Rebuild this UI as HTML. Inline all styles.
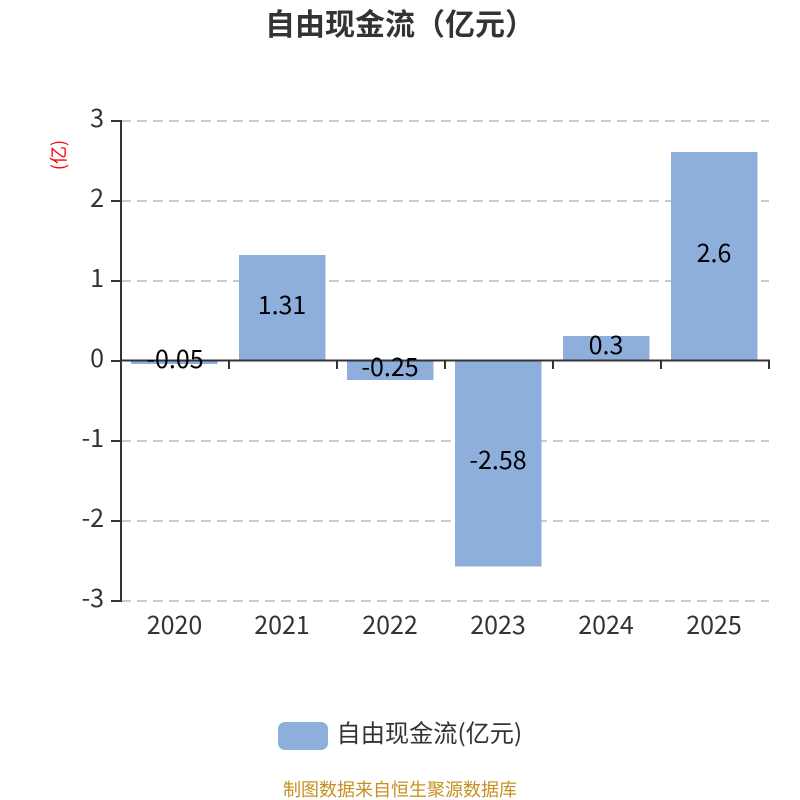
<!DOCTYPE html>
<html><head><meta charset="utf-8"><style>
html,body{margin:0;padding:0;background:#fff;width:800px;height:800px;overflow:hidden}
svg{display:block}
text{font-family:"Liberation Sans","Noto Sans CJK SC",sans-serif}
.n{font-family:"Noto Sans CJK SC",sans-serif}
</style></head><body>
<svg width="800" height="800" viewBox="0 0 800 800" xmlns="http://www.w3.org/2000/svg">
<text class="n" x="400" y="35" text-anchor="middle" font-size="30" font-weight="700" fill="#333">自由现金流（亿元）</text>
<g stroke="#ccc" stroke-width="2" stroke-dasharray="10 6" fill="none">
<path d="M121 121H769M121 201H769M121 281H769M121 441H769M121 521H769M121 601H769"/>
</g>
<g fill="#8eaedb">
<rect x="131" y="360" width="86.5" height="4"/>
<rect x="239" y="255" width="86.5" height="105"/>
<rect x="347" y="360" width="86.5" height="20"/>
<rect x="455" y="360" width="86.5" height="206.500"/>
<rect x="563" y="336" width="86.5" height="24"/>
<rect x="671" y="152" width="86.5" height="208"/>
</g>
<g stroke="#333" stroke-width="2" fill="none">
<path d="M121 120V602"/>
<path d="M120 360.500H770"/>
<path d="M111 121H121M111 201H121M111 281H121M111 361H121M111 441H121M111 521H121M111 601H121"/>
<path d="M229 361V369M337 361V369M445 361V369M553 361V369M661 361V369M769 361V369"/>
</g>
<g font-size="25" fill="#333" text-anchor="end">
<text class="n" x="104" y="127">3</text>
<text class="n" x="104" y="207">2</text>
<text class="n" x="104" y="287">1</text>
<text class="n" x="104" y="367">0</text>
<text class="n" x="104" y="447">-1</text>
<text class="n" x="104" y="527">-2</text>
<text class="n" x="104" y="607">-3</text>
</g>
<g font-size="25" fill="#333" text-anchor="middle">
<text class="n" x="174.500" y="634">2020</text>
<text class="n" x="282" y="634">2021</text>
<text class="n" x="390" y="634">2022</text>
<text class="n" x="498" y="634">2023</text>
<text class="n" x="606" y="634">2024</text>
<text class="n" x="714" y="634">2025</text>
</g>
<g font-size="25" fill="#000" text-anchor="middle">
<text class="n" x="175" y="368">-0.05</text>
<text class="n" x="282" y="314">1.31</text>
<text class="n" x="390" y="376">-0.25</text>
<text class="n" x="498" y="469">-2.58</text>
<text class="n" x="606" y="354">0.3</text>
<text class="n" x="714" y="262">2.6</text>
</g>
<text class="n" transform="translate(65 155) rotate(-90)" font-size="18" fill="#f00" text-anchor="middle">(亿)</text>
<rect x="278" y="722" width="50" height="28" rx="7" fill="#8eaedb"/>
<text class="n" x="336.500" y="742" font-size="24.200" fill="#333">自由现金流(亿元)</text>
<text class="n" x="400" y="796" font-size="18" fill="#c6901f" text-anchor="middle">制图数据来自恒生聚源数据库</text>
</svg>
</body></html>
